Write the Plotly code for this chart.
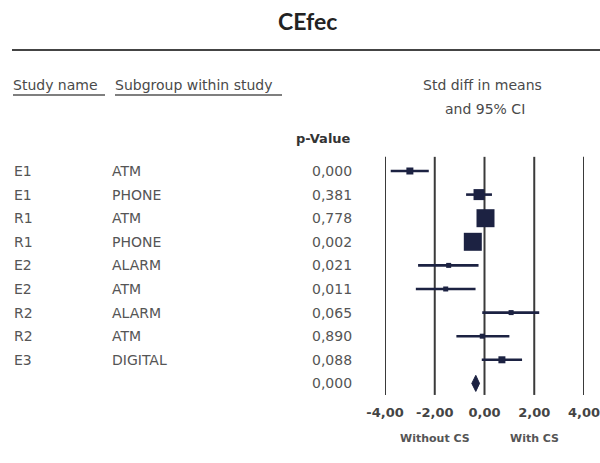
import plotly.graph_objects as go

# ---- data ---------------------------------------------------------------
study = ["E1", "E1", "R1", "R1", "E2", "E2", "R2", "R2", "E3"]
subgroup = ["ATM", "PHONE", "ATM", "PHONE", "ALARM", "ATM", "ALARM", "ATM", "DIGITAL"]
p_value = ["0,000", "0,381", "0,778", "0,002", "0,021", "0,011", "0,065", "0,890", "0,088"]
smd = [-3.00, -0.22, 0.04, -0.47, -1.44, -1.56, 1.07, -0.09, 0.70]
ci_low = [-3.77, -0.74, -0.30, -0.76, -2.67, -2.76, -0.09, -1.13, -0.11]
ci_high = [-2.24, 0.30, 0.38, -0.18, -0.24, -0.36, 2.20, 1.00, 1.51]

summary_smd = -0.35
summary_low = -0.51
summary_high = -0.20
summary_p = "0,000"

tick_vals = [-4, -2, 0, 2, 4]
tick_text = ["-4,00", "-2,00", "0,00", "2,00", "4,00"]

# ---- styles -------------------------------------------------------------
W, H = 600, 463
NAVY = "#1c2242"
GRID = "#3a3a3a"
TXT = "#555555"
box_px = [7, 11, 18, 18, 5, 5, 5, 5, 7]   # square sides (study weight)

rows = list(range(len(study)))
summary_row = len(study)

def px_x(p):
    return p / W

def px_y(p):
    return 1 - p / H

fig = go.Figure()

# individual studies: CI whiskers + weighted squares
fig.add_trace(go.Scatter(
    x=smd, y=rows, mode="markers",
    marker=dict(symbol="square", size=box_px, color=NAVY, opacity=1, line=dict(width=0)),
    error_x=dict(type="data", symmetric=False,
                 array=[h - m for h, m in zip(ci_high, smd)],
                 arrayminus=[m - l for m, l in zip(smd, ci_low)],
                 width=0, thickness=2.6, color=NAVY),
    hoverinfo="skip", showlegend=False, cliponaxis=False,
))

# pooled estimate diamond
dh = 0.34
fig.add_trace(go.Scatter(
    x=[summary_low, summary_smd, summary_high, summary_smd, summary_low],
    y=[summary_row, summary_row - dh, summary_row, summary_row + dh, summary_row],
    mode="lines", fill="toself", fillcolor=NAVY,
    line=dict(color=NAVY, width=1), hoverinfo="skip", showlegend=False,
))

# vertical reference lines at each tick
for v in tick_vals:
    fig.add_shape(type="line", xref="x", yref="y", x0=v, x1=v,
                  y0=-0.6, y1=9.49, line=dict(color=GRID, width=2), layer="below")

# table columns
row_font = dict(family="DejaVu Sans", size=14, color=TXT)
for i in rows:
    fig.add_annotation(x=px_x(12), y=i, xref="paper", yref="y", text=study[i],
                       showarrow=False, xanchor="left", yanchor="middle", font=row_font)
    fig.add_annotation(x=px_x(110), y=i, xref="paper", yref="y", text=subgroup[i],
                       showarrow=False, xanchor="left", yanchor="middle", font=row_font)
    fig.add_annotation(x=px_x(354), y=i, xref="paper", yref="y", text=p_value[i],
                       showarrow=False, xanchor="right", yanchor="middle", font=row_font)
fig.add_annotation(x=px_x(354), y=summary_row, xref="paper", yref="y", text=summary_p,
                   showarrow=False, xanchor="right", yanchor="middle", font=row_font)

# title and header rule
fig.add_annotation(x=px_x(307), y=px_y(21), xref="paper", yref="paper", text="<b>CEfec</b>",
                   showarrow=False, xanchor="center", yanchor="middle",
                   font=dict(family="Lato", size=23, color="#222222"))
fig.add_shape(type="line", xref="paper", yref="paper", x0=px_x(12), x1=1,
              y0=px_y(50), y1=px_y(50), line=dict(color="#444444", width=2))

# column headers
hdr_font = dict(family="DejaVu Sans", size=14, color="#4a4a4a")
fig.add_annotation(x=px_x(11), y=px_y(85), xref="paper", yref="paper", text="Study name",
                   showarrow=False, xanchor="left", yanchor="middle", font=hdr_font)
fig.add_annotation(x=px_x(113), y=px_y(85), xref="paper", yref="paper",
                   text="Subgroup within study",
                   showarrow=False, xanchor="left", yanchor="middle", font=hdr_font)
for x0, x1 in [(13, 105), (115, 282)]:
    fig.add_shape(type="line", xref="paper", yref="paper", x0=px_x(x0), x1=px_x(x1),
                  y0=px_y(95), y1=px_y(95), line=dict(color="#555555", width=1.5))
fig.add_annotation(x=px_x(482), y=px_y(85), xref="paper", yref="paper",
                   text="Std diff in means", showarrow=False,
                   xanchor="center", yanchor="middle", font=hdr_font)
fig.add_annotation(x=px_x(485), y=px_y(109), xref="paper", yref="paper",
                   text="and 95% CI", showarrow=False,
                   xanchor="center", yanchor="middle", font=hdr_font)
fig.add_annotation(x=px_x(353), y=px_y(138), xref="paper", yref="paper",
                   text="<b>p-Value</b>", showarrow=False,
                   xanchor="right", yanchor="middle",
                   font=dict(family="DejaVu Sans", size=13, color="#333333"))

# favours labels
lab_font = dict(family="DejaVu Sans", size=11, color="#555555")
fig.add_annotation(x=-2, y=px_y(438), xref="x", yref="paper", text="<b>Without CS</b>",
                   showarrow=False, xanchor="center", yanchor="middle", font=lab_font)
fig.add_annotation(x=2, y=px_y(438), xref="x", yref="paper", text="<b>With CS</b>",
                   showarrow=False, xanchor="center", yanchor="middle", font=lab_font)

fig.update_layout(
    width=W, height=H,
    margin=dict(l=0, r=0, t=0, b=0, pad=0, autoexpand=False),
    paper_bgcolor="white", plot_bgcolor="white",
    xaxis=dict(domain=[px_x(385), px_x(584)], range=[-4, 4],
               tickvals=tick_vals, ticktext=tick_text,
               showgrid=False, zeroline=False, showline=False, ticks="",
               automargin=False, ticklabelstandoff=8, ticklabeloverflow="allow",
               tickfont=dict(family="DejaVu Sans", size=13, color="#444444", weight="bold"),
               fixedrange=True),
    yaxis=dict(domain=[px_y(395), 1], range=[9.492, -7.246], visible=False,
               automargin=False, fixedrange=True),
)

fig.write_html("out.html")
